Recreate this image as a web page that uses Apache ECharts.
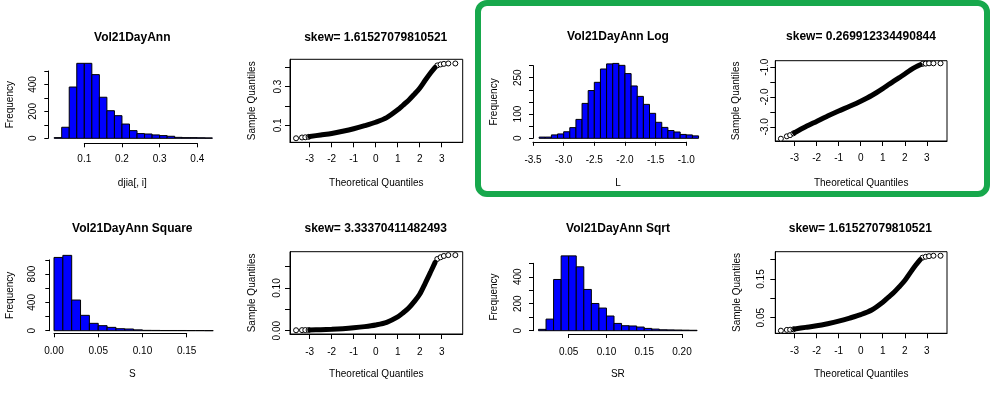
<!DOCTYPE html>
<html><head><meta charset="utf-8">
<script src="https://cdn.jsdelivr.net/npm/echarts@6/dist/echarts.min.js"></script>
<style>html,body{margin:0;padding:0;background:#fff}#c{width:996px;height:396px}</style>
</head><body><div id="c"></div>
<script>
// ================= DATA =================
// Histogram: Vol21DayAnn (djia[, i])
const volBreakStart = 0.02, volBinWidth = 0.02;
const volCounts = [5, 82, 381, 557, 557, 473, 305, 205, 168, 106, 57, 35, 32, 25, 20, 15, 7, 5, 5, 4, 3];
// Histogram: Vol21DayAnn Log (L)
const logBreakStart = -3.4, logBinWidth = 0.1;
const logCounts = [5, 5, 14, 18, 27, 44, 78, 144, 197, 231, 286, 307, 309, 301, 267, 216, 173, 140, 103, 66, 45, 32, 26, 16, 14, 10];
// Histogram: Vol21DayAnn Square (S)
const sqBreakStart = 0.0, sqBinWidth = 0.01;
const sqCounts = [1035, 1064, 433, 217, 104, 71, 47, 28, 24, 12, 5, 4, 3, 3, 3, 2, 2, 1];
// Histogram: Vol21DayAnn Sqrt (SR)
const srBreakStart = 0.01, srBinWidth = 0.01;
const srCounts = [10, 86, 380, 555, 555, 474, 306, 202, 168, 109, 54, 37, 35, 27, 17, 12, 7, 6, 5, 4, 3];

// QQ plots: theoretical quantiles (dense body and sparse tails)
const qqBodyX = [-3.0, -2.5, -2.0, -1.5, -1.0, -0.5, 0, 0.5, 1.0, 1.25, 1.5, 1.75, 2.0, 2.25, 2.5, 2.7];
const qqTailX = [-3.62, -3.35, -3.2, -3.05, 2.8, 2.95, 3.1, 3.3, 3.62];
// sample quantiles
const volQQBody = [0.042, 0.050, 0.058, 0.069, 0.082, 0.098, 0.116, 0.140, 0.180, 0.205, 0.230, 0.260, 0.292, 0.333, 0.372, 0.400];
const volQQTail = [0.033, 0.037, 0.038, 0.040, 0.410, 0.415, 0.418, 0.420, 0.420];
const logQQBody = [-3.20, -3.00, -2.82, -2.64, -2.47, -2.31, -2.14, -1.95, -1.72, -1.59, -1.47, -1.35, -1.23, -1.10, -0.99, -0.92];
const logQQTail = [-3.40, -3.32, -3.28, -3.22, -0.89, -0.88, -0.87, -0.87, -0.87];
const sqQQBody = [0.0018, 0.0025, 0.0034, 0.0048, 0.0068, 0.0096, 0.0135, 0.0196, 0.0324, 0.042, 0.053, 0.068, 0.0853, 0.111, 0.138, 0.160];
const sqQQTail = [0.0011, 0.0014, 0.0015, 0.0016, 0.168, 0.172, 0.175, 0.177, 0.177];
const srQQBody = [0.021, 0.025, 0.029, 0.0345, 0.041, 0.049, 0.058, 0.070, 0.090, 0.1025, 0.115, 0.130, 0.146, 0.1665, 0.186, 0.200];
const srQQTail = [0.0165, 0.0185, 0.019, 0.020, 0.205, 0.2075, 0.209, 0.210, 0.210];

// Tick values and labels
const volHistXTicks = [0.1, 0.2, 0.3, 0.4];
const volHistYTicks = [0, 100, 200, 300, 400, 500];
const volHistYLabels = [0, 200, 400];
const logHistXTicks = [-3.5, -3.0, -2.5, -2.0, -1.5, -1.0];
const logHistYTicks = [0, 50, 100, 150, 200, 250, 300];
const logHistYLabels = [0, 100, 250];
const sqHistXTicks = [0.00, 0.05, 0.10, 0.15];
const sqHistYTicks = [0, 200, 400, 600, 800, 1000];
const sqHistYLabels = [0, 400, 800];
const srHistXTicks = [0.05, 0.10, 0.15, 0.20];
const srHistYTicks = [0, 100, 200, 300, 400, 500];
const srHistYLabels = [0, 200, 400];
const qqXTicks = [-3, -2, -1, 0, 1, 2, 3];
const volQQYTicks = [0.1, 0.2, 0.3, 0.4];
const volQQYLabels = [0.1, 0.3];
const logQQYTicks = [-3.0, -2.5, -2.0, -1.5, -1.0];
const logQQYLabels = [-3.0, -2.0, -1.0];
const sqQQYTicks = [0.00, 0.05, 0.10, 0.15];
const sqQQYLabels = [0.00, 0.10];
const srQQYTicks = [0.05, 0.10, 0.15, 0.20];
const srQQYLabels = [0.05, 0.15];

// Texts
const titles = ['Vol21DayAnn', 'skew= 1.61527079810521', 'Vol21DayAnn Log', 'skew= 0.269912334490844',
                'Vol21DayAnn Square', 'skew= 3.33370411482493', 'Vol21DayAnn Sqrt', 'skew= 1.61527079810521'];
const histXNames = ['djia[, i]', 'L', 'S', 'SR'];

// ================= LAYOUT / BUILD =================
const FONT = '"Liberation Sans", Arial, sans-serif';
const grids = [], xAxes = [], yAxes = [], series = [], graphics = [];
const fmt = d => (v => Number(v).toFixed(d));

function baseAxis() {
  return {
    type: 'value', nameLocation: 'middle',
    splitLine: { show: false },
    axisLine: { show: true, onZero: false, lineStyle: { color: '#000', width: 1 } },
    axisTick: { show: true, inside: false, length: 5, lineStyle: { color: '#000', width: 1 } },
    nameTextStyle: { color: '#000', fontSize: 10, fontFamily: FONT },
  };
}

function histPanel(p) {
  const gi = grids.length;
  grids.push({ left: p.g[0], top: p.g[1], width: p.g[2], height: p.g[3], containLabel: false, outerBoundsMode: 'none', show: false });
  const xa = baseAxis();
  Object.assign(xa, {
    gridIndex: gi, min: p.xTicks[0], max: p.xTicks[p.xTicks.length - 1], offset: p.xOff,
    name: p.xName, nameGap: p.xNameGap,
    axisTick: Object.assign(xa.axisTick, { customValues: p.xTicks, length: 4 }),
    axisLabel: { customValues: p.xTicks, formatter: fmt(p.xDec), color: '#000', fontSize: 10, fontFamily: FONT, margin: p.xLabM },
  });
  xa.nameTextStyle.padding = p.xNamePad;
  xAxes.push(xa);
  const ya = baseAxis();
  Object.assign(ya, {
    gridIndex: gi, min: 0, max: p.yTicks[p.yTicks.length - 1], offset: p.yOff,
    name: 'Frequency', nameGap: p.yNameGap,
    axisTick: Object.assign(ya.axisTick, { customValues: p.yTicks, length: 4 }),
    axisLabel: { customValues: p.yLabels, formatter: fmt(0), rotate: 90, color: '#000', fontSize: 10, fontFamily: FONT, margin: p.yLabM },
  });
  yAxes.push(ya);
  const data = p.counts.map((c, i) => [p.start + i * p.w, p.start + (i + 1) * p.w, c]);
  series.push({
    type: 'custom', xAxisIndex: gi, yAxisIndex: gi, clip: false, data: data,
    encode: { x: [0, 1], y: 2 },
    renderItem: function (params, api) {
      const a = api.coord([api.value(0), api.value(2)]);
      const b = api.coord([api.value(1), 0]);
      return { type: 'rect', shape: { x: a[0], y: a[1], width: b[0] - a[0], height: b[1] - a[1] },
               style: { fill: '#0000ff', stroke: '#000', lineWidth: 1 } };
    }
  });
}

function qqPanel(p) {
  const gi = grids.length;
  grids.push({ left: p.g[0], top: p.g[1], width: p.g[2], height: p.g[3], containLabel: false, outerBoundsMode: 'none',
               show: true, borderColor: '#000', borderWidth: 1, backgroundColor: 'transparent' });
  const xa = baseAxis();
  Object.assign(xa, {
    gridIndex: gi, min: p.xr[0], max: p.xr[1],
    name: 'Theoretical Quantiles', nameGap: p.xNameGap,
    axisTick: Object.assign(xa.axisTick, { customValues: qqXTicks }),
    axisLabel: { customValues: qqXTicks, formatter: fmt(0), color: '#000', fontSize: 10, fontFamily: FONT, margin: p.xLabM },
  });
  xAxes.push(xa);
  const ya = baseAxis();
  Object.assign(ya, {
    gridIndex: gi, min: p.yr[0], max: p.yr[1],
    name: 'Sample Quantiles', nameGap: p.yNameGap,
    axisTick: Object.assign(ya.axisTick, { customValues: p.yTicks }),
    axisLabel: { customValues: p.yLabels, formatter: fmt(p.yDec), rotate: 90, color: '#000', fontSize: 10, fontFamily: FONT, margin: p.yLabM },
  });
  yAxes.push(ya);
  series.push({
    type: 'line', xAxisIndex: gi, yAxisIndex: gi, symbol: 'none', smooth: 0.3,
    lineStyle: { color: '#000', width: 5, cap: 'round' },
    data: qqBodyX.map((x, i) => [x, p.body[i]])
  });
  series.push({
    type: 'scatter', xAxisIndex: gi, yAxisIndex: gi, symbol: 'circle', symbolSize: 5,
    itemStyle: { color: '#fff', borderColor: '#000', borderWidth: 1, opacity: 1 },
    data: qqTailX.map((x, i) => [x, p.tail[i]])
  });
}

// Top row
histPanel({ g: [84.3, 71, 113, 67.3], counts: volCounts, start: volBreakStart, w: volBinWidth,
  xTicks: volHistXTicks, xDec: 1, yTicks: volHistYTicks, yLabels: volHistYLabels,
  xOff: 5, yOff: 36, xName: histXNames[0], xNameGap: 35, xNamePad: [0, 17, 0, 0], yNameGap: 33, xLabM: 11, yLabM: 10 });
qqPanel({ g: [290, 59.3, 172.7, 83], xr: [-3.895, 3.955], yr: [0.0121, 0.4416], body: volQQBody, tail: volQQTail,
  yTicks: volQQYTicks, yLabels: volQQYLabels, yDec: 1, xNameGap: 35.5, yNameGap: 33, xLabM: 12, yLabM: 7 });
histPanel({ g: [533, 65.6, 153.3, 72.7], counts: logCounts, start: logBreakStart, w: logBinWidth,
  xTicks: logHistXTicks, xDec: 1, yTicks: logHistYTicks, yLabels: logHistYLabels,
  xOff: 3.5, yOff: 0, xName: histXNames[1], xNameGap: 36.5, xNamePad: [0, 0, 0, 17], yNameGap: 34, xLabM: 13, yLabM: 10 });
qqPanel({ g: [775.3, 60.7, 171.7, 80.3], xr: [-3.873, 3.914], yr: [-3.477, -0.782], body: logQQBody, tail: logQQTail,
  yTicks: logQQYTicks, yLabels: logQQYLabels, yDec: 1, xNameGap: 37, yNameGap: 34, xLabM: 12, yLabM: 5 });
// Bottom row
histPanel({ g: [54, 259.9, 132.7, 70.8], counts: sqCounts, start: sqBreakStart, w: sqBinWidth,
  xTicks: sqHistXTicks, xDec: 2, yTicks: sqHistYTicks, yLabels: sqHistYLabels,
  xOff: 2.6, yOff: 4.7, xName: histXNames[2], xNameGap: 36, xNamePad: [0, 0, 0, 24], yNameGap: 34, xLabM: 13, yLabM: 12 });
qqPanel({ g: [290, 251.7, 172.7, 82.3], xr: [-3.895, 3.955], yr: [-0.0077, 0.185], body: sqQQBody, tail: sqQQTail,
  yTicks: sqQQYTicks, yLabels: sqQQYLabels, yDec: 2, xNameGap: 35.5, yNameGap: 33, xLabM: 13, yLabM: 7.5 });
histPanel({ g: [568.7, 263.3, 113.3, 67.4], counts: srCounts, start: srBreakStart, w: srBinWidth,
  xTicks: srHistXTicks, xDec: 2, yTicks: srHistYTicks, yLabels: srHistYLabels,
  xOff: 3.3, yOff: 35.7, xName: histXNames[3], xNameGap: 35, xNamePad: [0, 15, 0, 0], yNameGap: 34, xLabM: 13, yLabM: 10 });
qqPanel({ g: [775.3, 251.7, 171.7, 81.6], xr: [-3.873, 3.914], yr: [0.0097, 0.2205], body: srQQBody, tail: srQQTail,
  yTicks: srQQYTicks, yLabels: srQQYLabels, yDec: 2, xNameGap: 36, yNameGap: 33, xLabM: 13, yLabM: 9 });

// Panel titles
const titlePos = [[132.3, 37.3], [375.7, 37.3], [618, 36.7], [861, 36.7], [132.3, 229], [375.7, 229], [618, 229], [860.3, 229]];
titles.forEach((t, i) => {
  graphics.push({ type: 'text', x: titlePos[i][0], y: titlePos[i][1], z: 50,
    style: { text: t, font: 'bold 12px "Liberation Sans", Arial, sans-serif', fill: '#000',
             textAlign: 'center', verticalAlign: 'middle', textVerticalAlign: 'middle' } });
});
// Green highlight frame
graphics.push({ type: 'rect', z: 100, shape: { x: 478, y: 3, width: 509, height: 191, r: 9 },
  style: { fill: 'none', stroke: '#17a84c', lineWidth: 6 } });

const chart = echarts.init(document.getElementById('c'), null, { renderer: 'canvas' });
chart.setOption({
  animation: false, backgroundColor: '#fff',
  grid: grids, xAxis: xAxes, yAxis: yAxes, series: series, graphic: graphics
});
</script></body></html>
